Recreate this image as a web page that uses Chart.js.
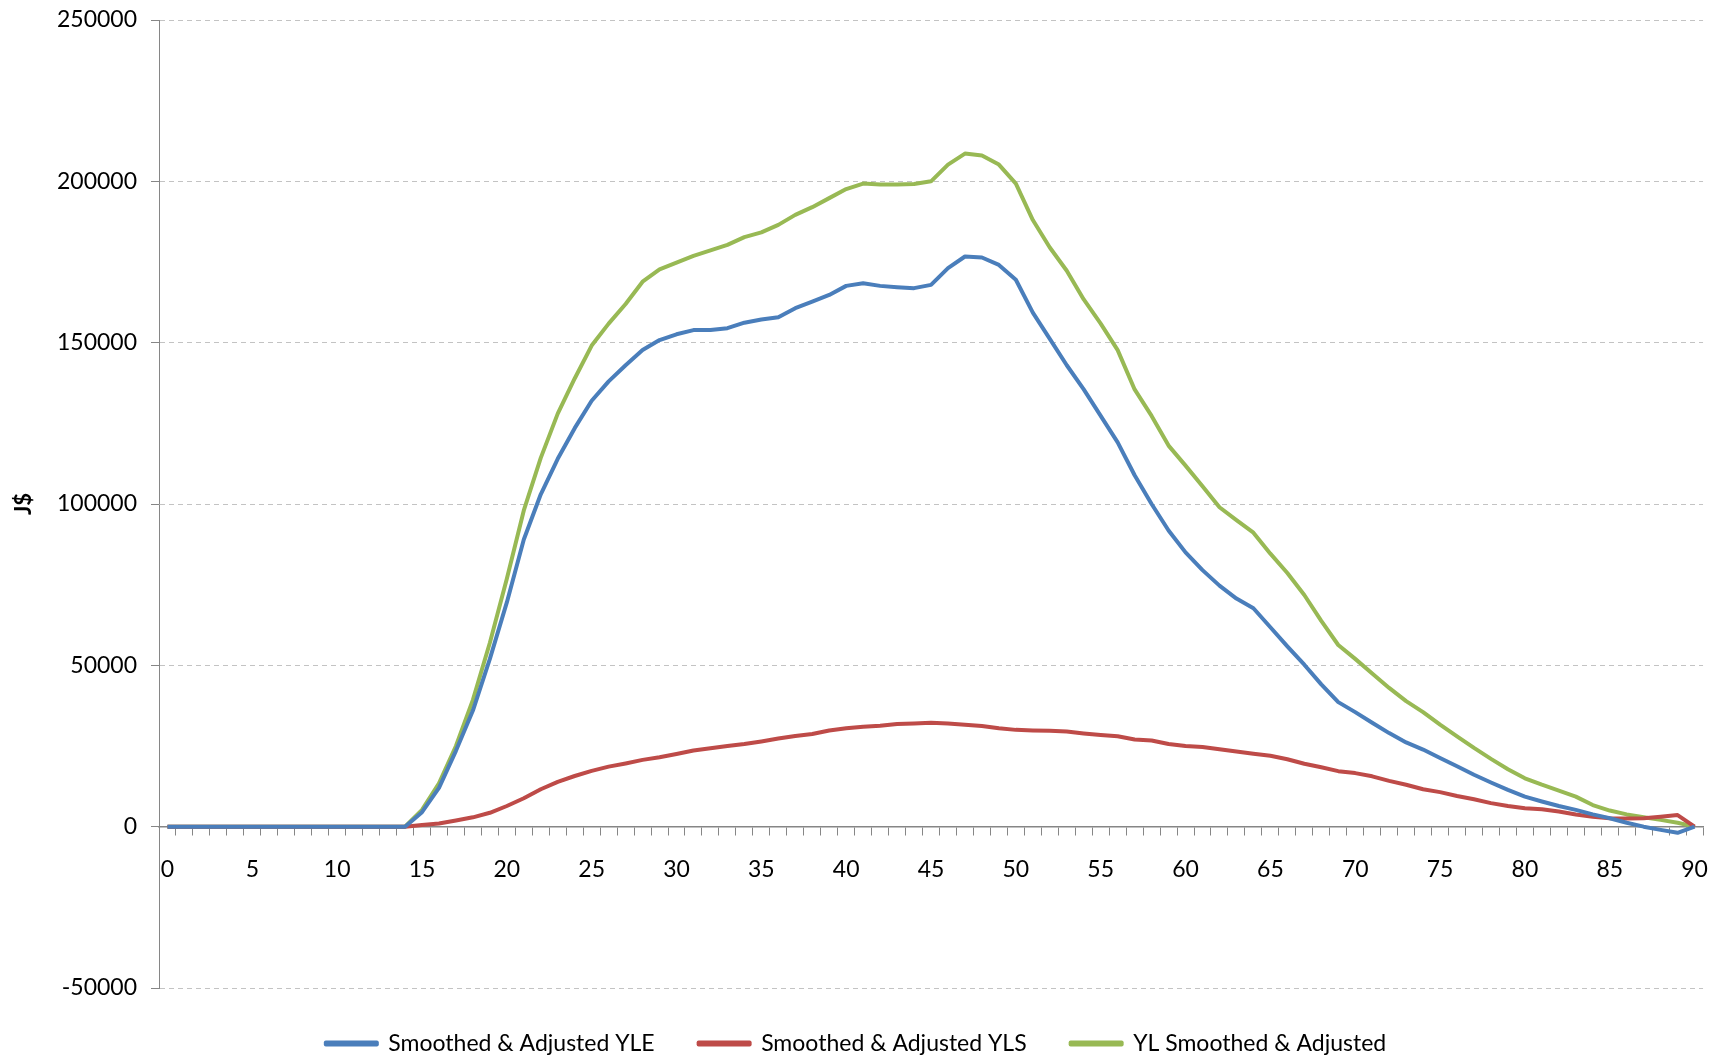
<!DOCTYPE html>
<html>
<head>
<meta charset="utf-8">
<title>YLE / YLS by age</title>
<script src="https://cdn.jsdelivr.net/npm/chart.js@4.4.1/dist/chart.umd.min.js"></script>
<style>
  html, body { margin: 0; padding: 0; background: #fff; }
  canvas { display: block; }
</style>
</head>
<body>
<canvas id="myChart" width="1729" height="1058"></canvas>
<script>
var ages = ["0", "1", "2", "3", "4", "5", "6", "7", "8", "9",
  "10", "11", "12", "13", "14", "15", "16", "17", "18", "19",
  "20", "21", "22", "23", "24", "25", "26", "27", "28", "29",
  "30", "31", "32", "33", "34", "35", "36", "37", "38", "39",
  "40", "41", "42", "43", "44", "45", "46", "47", "48", "49",
  "50", "51", "52", "53", "54", "55", "56", "57", "58", "59",
  "60", "61", "62", "63", "64", "65", "66", "67", "68", "69",
  "70", "71", "72", "73", "74", "75", "76", "77", "78", "79",
  "80", "81", "82", "83", "84", "85", "86", "87", "88", "89",
  "90"];

// Smoothed & Adjusted YLE
var yleData = [0, 0, 0, 0, 0, 0, 0, 0, 0, 0,
  0, 0, 0, 0, 0, 4500, 12000, 23500, 36000, 52000,
  69500, 89000, 103000, 114000, 123500, 132000, 138000, 143000, 147700, 150800,
  152600, 153900, 153900, 154500, 156200, 157200, 157900, 160700, 162700, 164800,
  167600, 168400, 167600, 167200, 166900, 167900, 173100, 176700, 176400, 174100,
  169500, 159300, 151200, 143000, 135500, 127300, 119100, 108900, 100000, 91800,
  85000, 79500, 74700, 70700, 67700, 61800, 55900, 50200, 44100, 38600,
  35500, 32200, 29000, 26100, 23900, 21300, 18700, 16100, 13700, 11400,
  9300, 7800, 6400, 5200, 3800, 2600, 1200, 0, -1000, -1900,
  0];

// Smoothed & Adjusted YLS
var ylsData = [0, 0, 0, 0, 0, 0, 0, 0, 0, 0,
  0, 0, 0, 0, 0, 500, 1000, 1900, 2900, 4300,
  6400, 8800, 11600, 13900, 15700, 17300, 18600, 19600, 20700, 21500,
  22500, 23600, 24300, 25000, 25600, 26400, 27300, 28100, 28700, 29800,
  30500, 31000, 31300, 31800, 32000, 32200, 32000, 31600, 31200, 30500,
  30000, 29800, 29700, 29500, 28900, 28400, 28000, 27000, 26700, 25600,
  25000, 24700, 24000, 23300, 22600, 22000, 20900, 19500, 18400, 17200,
  16600, 15600, 14200, 13000, 11600, 10700, 9500, 8500, 7300, 6400,
  5700, 5400, 4700, 3800, 3100, 2600, 2500, 2600, 3100, 3600,
  0];

// YL Smoothed & Adjusted
var ylData = [0, 0, 0, 0, 0, 0, 0, 0, 0, 0,
  0, 0, 0, 0, 0, 5200, 13400, 25000, 39300, 57000,
  76800, 98000, 114300, 128000, 138900, 149100, 155900, 162000, 168900, 172700,
  174800, 176900, 178600, 180300, 182700, 184200, 186500, 189600, 192000, 194800,
  197600, 199300, 199000, 199000, 199200, 200000, 205200, 208600, 208000, 205200,
  199300, 188000, 179500, 172300, 163400, 155900, 147700, 135500, 127300, 118100,
  111900, 105500, 99000, 95000, 91100, 84600, 78600, 71800, 63800, 56300,
  52000, 47500, 43000, 38900, 35500, 31600, 28000, 24400, 21000, 17800,
  15000, 13000, 11200, 9300, 6700, 5000, 3800, 2900, 2100, 1200,
  0];

var yTicks = [-50000, 0, 50000, 100000, 150000, 200000, 250000];

var fontFamily = "Lato, 'Open Sans', sans-serif";

var ctx = document.getElementById('myChart').getContext('2d');

var myChart = new Chart(ctx, {
  type: 'line',
  data: {
    labels: ages,
    datasets: [
      {
        label: 'Smoothed & Adjusted YLE',
        data: yleData,
        borderColor: '#4a7ebb',
        backgroundColor: '#4a7ebb',
        borderWidth: 4,
        pointRadius: 0,
        tension: 0,
        borderJoinStyle: 'round',
        fill: false
      },
      {
        label: 'Smoothed & Adjusted YLS',
        data: ylsData,
        borderColor: '#be4b48',
        backgroundColor: '#be4b48',
        borderWidth: 4,
        pointRadius: 0,
        tension: 0,
        borderJoinStyle: 'round',
        fill: false
      },
      {
        label: 'YL Smoothed & Adjusted',
        data: ylData,
        borderColor: '#98b954',
        backgroundColor: '#98b954',
        borderWidth: 4,
        pointRadius: 0,
        tension: 0,
        borderJoinStyle: 'round',
        fill: false
      }
    ]
  },
  options: {
    responsive: false,
    animation: false,
    devicePixelRatio: 1,
    layout: {
      padding: { top: 20, right: 17, bottom: -7, left: 0 }
    },
    plugins: {
      tooltip: { enabled: false },
      legend: {
        position: 'bottom',
        labels: {
          boxWidth: 51,
          boxHeight: 2,
          padding: 44,
          color: '#000',
          font: { family: fontFamily, size: 23 }
        }
      }
    },
    scales: {
      x: {
        type: 'category',
        position: { y: 0 },
        offset: true,
        grid: {
          display: true,
          offset: true,
          drawOnChartArea: false,
          drawTicks: true,
          tickLength: 8,
          tickColor: '#868686'
        },
        border: { display: true, color: '#868686', width: 1.5 },
        ticks: {
          autoSkip: false,
          maxRotation: 0,
          minRotation: 0,
          padding: 21,
          color: '#000',
          font: { family: fontFamily, size: 23 },
          callback: function(value, index) {
            return index % 5 === 0 ? ages[index] : '';
          }
        }
      },
      y: {
        min: yTicks[0],
        max: yTicks[yTicks.length - 1],
        afterFit: function(scale) {
          scale.width = 159;
          // tick padding should not push the plot down
          scale.paddingTop = 0;
          scale.paddingBottom = 0;
        },
        afterBuildTicks: function(scale) {
          scale.ticks = yTicks.map(function(v) { return { value: v }; });
        },
        grid: {
          color: '#c3c3c3',
          lineWidth: 1,
          tickLength: 8,
          tickColor: '#868686'
        },
        border: { display: true, color: '#868686', width: 1, dash: [5, 4] },
        ticks: {
          padding: 14,
          color: '#000',
          font: { family: fontFamily, size: 23 },
          callback: function(value) { return String(value); }
        },
        title: {
          display: true,
          text: 'J$',
          color: '#000',
          padding: { top: 11, bottom: 0 },
          font: { family: fontFamily, size: 22, weight: 'bold' }
        }
      }
    }
  }
});
</script>
</body>
</html>
